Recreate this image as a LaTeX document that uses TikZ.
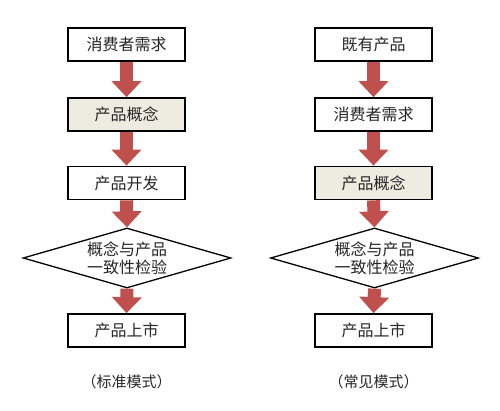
\documentclass[tikz,border=0pt]{standalone}
\usepackage{fontspec}
\newfontfamily\cjk{Noto Sans CJK SC}
\usetikzlibrary{shapes.geometric,arrows.meta,backgrounds}
\definecolor{arrowred}{HTML}{C0504D}
\definecolor{beige}{HTML}{EEECE1}
\begin{document}
\begin{tikzpicture}[x=1pt,y=-1pt,
  stepbox/.style={draw=black,line width=1.7pt,fill=white,minimum width=117pt,minimum height=33pt,inner sep=0pt,text=black!85,font=\cjk\fontsize{16}{18}\selectfont},
  conceptbox/.style={stepbox,fill=beige},
  checkbox/.style={draw=black,line width=1.3pt,fill=white,shape=diamond,aspect=3.47,minimum width=208pt,minimum height=60pt,inner sep=0pt,align=center,text=black!85,font=\cjk\fontsize{16}{18}\selectfont},
  caption/.style={text=black!85,font=\cjk\fontsize{15}{17}\selectfont},
  flow/.style={draw=arrowred,line width=13pt,-{Triangle[width=29pt,length=16pt]},arrowred}
]
\useasboundingbox (0,0) rectangle (500,411);
% left column
\node[stepbox] (l1) at (126.5,44.5) {消费者需求};
\node[conceptbox] (l2) at (126.5,114.5) {产品概念};
\node[stepbox] (l3) at (126.5,183) {产品开发};
\node[checkbox] (l4) at (127,258) {概念与产品\\一致性检验};
\node[stepbox] (l5) at (126.5,330.5) {产品上市};
\node[caption] (lc) at (126.5,382) {（标准模式）};
% right column
\node[stepbox] (r1) at (373.5,44.5) {既有产品};
\node[stepbox] (r2) at (373.5,114.5) {消费者需求};
\node[conceptbox] (r3) at (373.5,183) {产品概念};
\node[checkbox] (r4) at (374.5,258) {概念与产品\\一致性检验};
\node[stepbox] (r5) at (373.5,330.5) {产品上市};
\node[caption] (rc) at (373.5,382) {（常见模式）};
\begin{scope}[on background layer]
\draw[flow] (l1.south) -- (l2.north);
\draw[flow] (l2.south) -- (l3.north);
\draw[flow] (l3.south) -- (l4.north);
\draw[flow] (l4.south) -- (l5.north);
\draw[flow] (r1.south) -- (r2.north);
\draw[flow] (r2.south) -- (r3.north);
\draw[flow] (r3.south) -- (r4.north);
\draw[flow] (r4.south) -- (r5.north);
\end{scope}
\end{tikzpicture}
\end{document}
